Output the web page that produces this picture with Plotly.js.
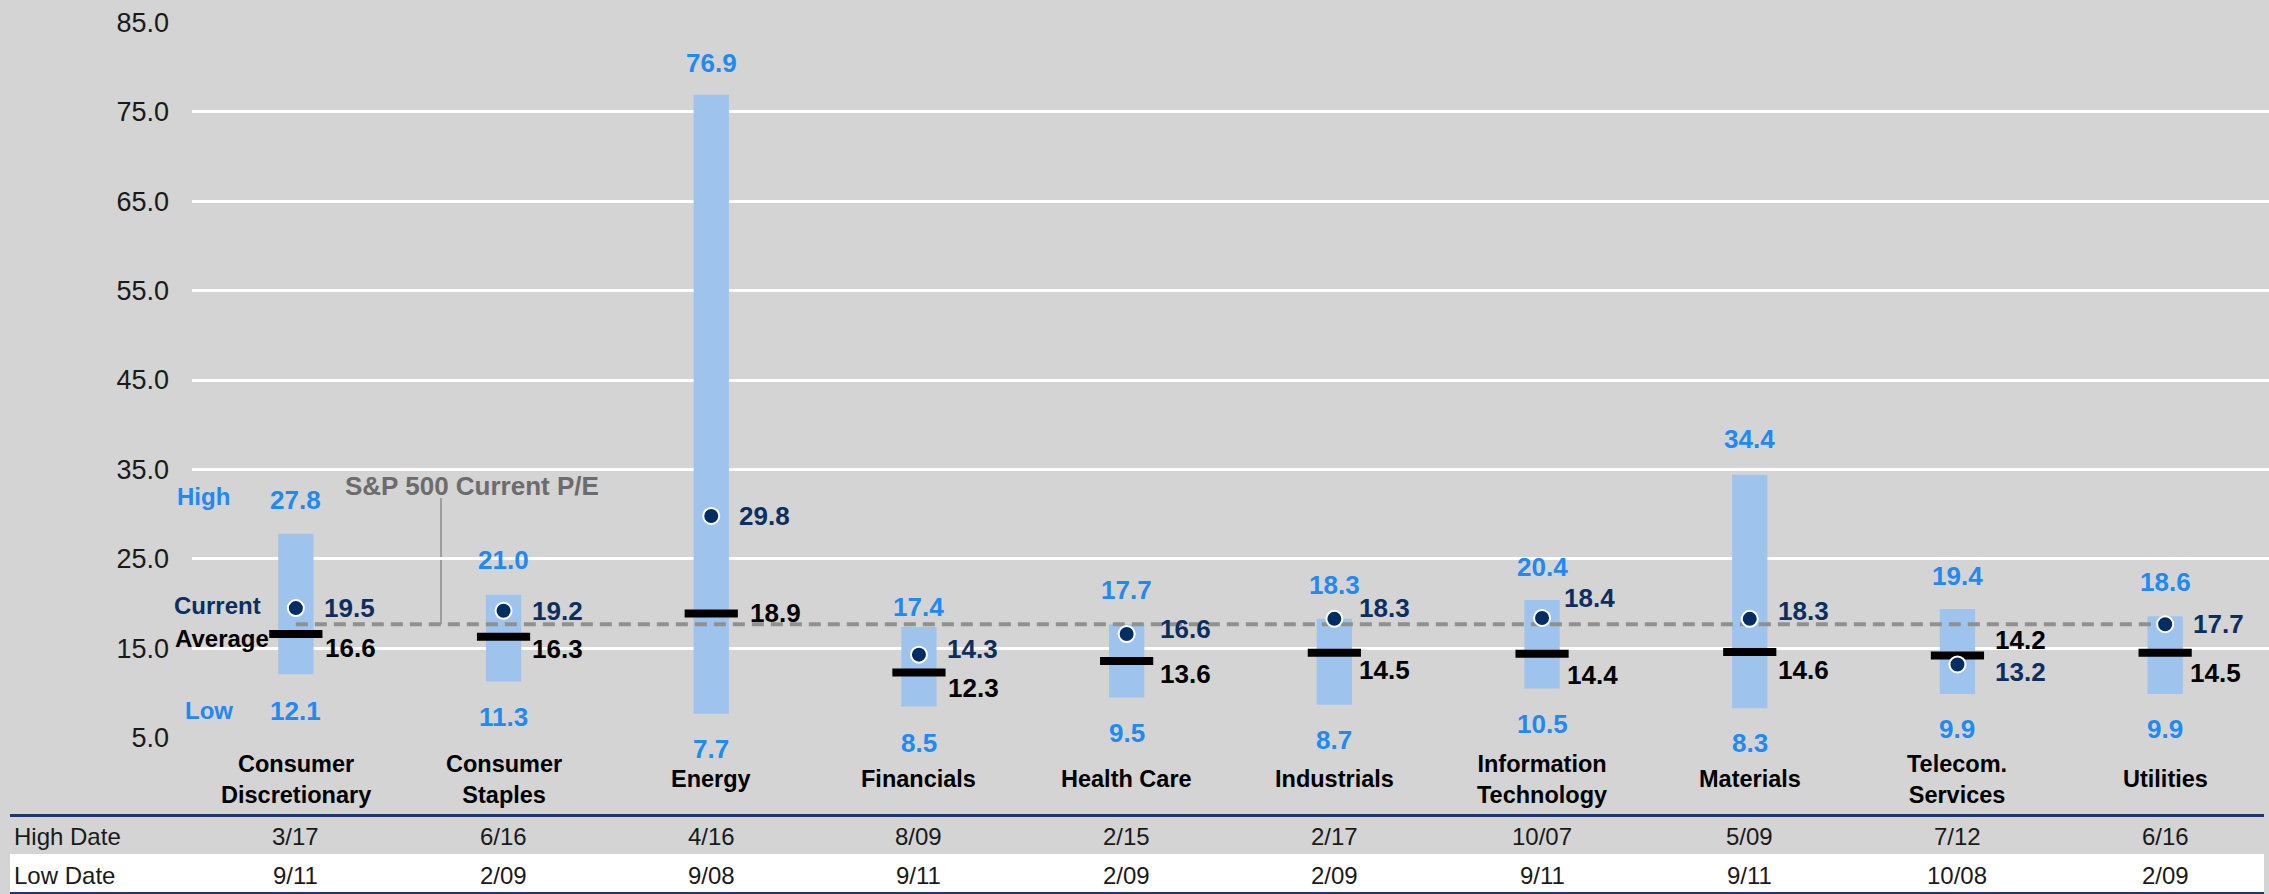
<!DOCTYPE html>
<html><head><meta charset="utf-8">
<script src="https://cdn.plot.ly/plotly-3.0.1.min.js"></script>
<style>html,body{margin:0;padding:0;background:#D3D4D3;} #chart{width:2269px;height:894px;}</style>
</head><body><div id="chart"></div>
<script>
// ---- data ----
const categories = ["Consumer<br>Discretionary","Consumer<br>Staples","Energy","Financials","Health Care","Industrials","Information<br>Technology","Materials","Telecom.<br>Services","Utilities"];
const highPE = [27.8,21.0,76.9,17.4,17.7,18.3,20.4,34.4,19.4,18.6];
const lowPE = [12.1,11.3,7.7,8.5,9.5,8.7,10.5,8.3,9.9,9.9];
const avgPE = [16.6,16.3,18.9,12.3,13.6,14.5,14.4,14.6,14.2,14.5];
const currentPE = [19.5,19.2,29.8,14.3,16.6,18.3,18.4,18.3,13.2,17.7];
const spxCurrentPE = 17.7;
const highDates = ["3/17","6/16","4/16","8/09","2/15","2/17","10/07","5/09","7/12","6/16"];
const lowDates = ["9/11","2/09","9/08","9/11","2/09","2/09","9/11","9/11","10/08","2/09"];
const yTicks = [5,15,25,35,45,55,65,75,85];
const rowLabels = ["High Date","Low Date"];
const legendLabels = ["High","Current","Average","Low"];
const spxLabel = "S&P 500 Current P/E";

// ---- label offsets (px, style only) ----
const highLabelShift = [34,35,32,20,34,34,33,36,33,34];
const lowLabelShift = [-37,-36,-35,-36,-35,-35,-35,-35,-35,-35];
const curLabelShiftY = [0,0,0,6,5,11,20,8,-8,0];
const curLabelShiftX = [26,26,26,26,31,23,20,26,36,26];
const avgLabelShiftY = [-14,-12,0,-15,-13,-17,-21,-18,16,-20];
const avgLabelShiftX = [27,26,37,27,31,23,23,26,36,23];

// ---- geometry ----
const W = 2269, H = 894, ML = 192, MR = 0, MT = 22, MB = 156;
const PW = W - ML - MR, PH = H - MT - MB;
const px2paper = px => (px - ML) / PW;
const py2paper = py => (H - MB - py) / PH;

const BLUE = '#2189F3', NAVY = '#0C2F5F', BAR = '#9EC4EE', DOT = '#002D62';
const REG = 'Liberation Sans, Arial, sans-serif';

const traces = [
  {type:'bar', x:categories, y:highPE.map((h,i)=>h-lowPE[i]), base:lowPE, width:0.17,
   marker:{color:BAR, line:{width:0}}, hoverinfo:'skip'},
  {type:'scatter', mode:'lines', x:[categories[0], categories[categories.length-1]], y:[spxCurrentPE, spxCurrentPE],
   line:{color:'#8F918F', width:4, dash:'12px,7px'}, hoverinfo:'skip'},
  {type:'scatter', mode:'markers', x:categories, y:avgPE,
   marker:{symbol:'line-ew', size:38, line:{width:8, color:'#000'}}, hoverinfo:'skip'},
  {type:'scatter', mode:'markers', x:categories, y:currentPE,
   marker:{symbol:'circle', size:16, color:DOT, line:{width:2, color:'#fff'}}, hoverinfo:'skip'}
];

const ann = [];
const valFont = (c) => ({family:REG, size:26, color:c, weight:700});
categories.forEach((c,i)=>{
  ann.push({x:c, y:highPE[i], xref:'x', yref:'y', text:highPE[i].toFixed(1), showarrow:false,
    xanchor:'center', yanchor:'middle', yshift:highLabelShift[i], font:valFont(BLUE)});
  ann.push({x:c, y:lowPE[i], xref:'x', yref:'y', text:lowPE[i].toFixed(1), showarrow:false,
    xanchor:'center', yanchor:'middle', yshift:lowLabelShift[i], font:valFont(BLUE)});
  ann.push({x:c, y:currentPE[i], xref:'x', yref:'y', text:currentPE[i].toFixed(1), showarrow:false,
    xanchor:'left', yanchor:'middle', xshift:curLabelShiftX[i], yshift:curLabelShiftY[i], font:valFont(NAVY)});
  ann.push({x:c, y:avgPE[i], xref:'x', yref:'y', text:avgPE[i].toFixed(1), showarrow:false,
    xanchor:'left', yanchor:'middle', xshift:avgLabelShiftX[i], yshift:avgLabelShiftY[i], font:valFont('#000')});
  // category label
  ann.push({x:c, xref:'x', y:py2paper(779), yref:'paper', text:c, showarrow:false,
    xanchor:'center', yanchor:'middle', font:{family:REG, size:23.5, color:'#000', weight:700}});
  ann.push({x:c, xref:'x', y:py2paper(837), yref:'paper', text:highDates[i], showarrow:false,
    xanchor:'center', yanchor:'middle', font:{family:REG, size:24, color:'#1a1a1a'}});
  ann.push({x:c, xref:'x', y:py2paper(875), yref:'paper', text:lowDates[i], showarrow:false,
    xanchor:'center', yanchor:'middle', font:{family:REG, size:24, color:'#1a1a1a'}});
});
// table row labels
ann.push({x:px2paper(12), xref:'paper', y:py2paper(837), yref:'paper', text:rowLabels[0], showarrow:false,
  xanchor:'left', yanchor:'middle', font:{family:REG, size:24, color:'#1a1a1a'}});
ann.push({x:px2paper(12), xref:'paper', y:py2paper(875), yref:'paper', text:rowLabels[1], showarrow:false,
  xanchor:'left', yanchor:'middle', font:{family:REG, size:24, color:'#1a1a1a'}});
// legend-like labels on left
const legPos = [[175,496,BLUE],[172,605,NAVY],[173,638,'#000'],[183,710,BLUE]];
legendLabels.forEach((t,k)=>{
  ann.push({x:px2paper(legPos[k][0]), xref:'paper', y:py2paper(legPos[k][1]), yref:'paper', text:t, showarrow:false,
    xanchor:'left', yanchor:'middle', font:{family:REG, size:24, color:legPos[k][2], weight:700}});
});
// S&P label
ann.push({x:px2paper(343), xref:'paper', y:py2paper(486), yref:'paper', text:spxLabel, showarrow:false,
  xanchor:'left', yanchor:'middle', font:{family:REG, size:26, color:'#6B6C6B', weight:700}});

const shapes = [
  {type:'line', xref:'paper', yref:'y', x0:px2paper(441), x1:px2paper(441), y0:spxCurrentPE, y1:31.8,
   line:{color:'#8A8B8A', width:1.5}, layer:'below'},
  {type:'rect', xref:'paper', yref:'paper', x0:px2paper(10), x1:px2paper(2264), y0:py2paper(854), y1:py2paper(892),
   fillcolor:'#ffffff', line:{width:0}, layer:'below'},
  {type:'line', xref:'paper', yref:'paper', x0:px2paper(10), x1:px2paper(2264), y0:py2paper(815.5), y1:py2paper(815.5),
   line:{color:'#1B3A6A', width:3}},
  {type:'line', xref:'paper', yref:'paper', x0:px2paper(10), x1:px2paper(2264), y0:py2paper(893), y1:py2paper(893),
   line:{color:'#1B3A6A', width:2}}
];

const layout = {
  width:W, height:H, margin:{l:ML, r:MR, t:MT, b:MB, pad:0},
  paper_bgcolor:'#D3D4D3', plot_bgcolor:'#D3D4D3',
  showlegend:false, hovermode:false,
  xaxis:{type:'category', range:[-0.5, categories.length-0.5], showgrid:false, showticklabels:false,
    zeroline:false, showline:false, ticks:'', fixedrange:true},
  yaxis:{range:[4.98, 85.02], tickvals:yTicks, ticktext:yTicks.map(v=>v.toFixed(1)),
    showgrid:true, gridcolor:'#ffffff', gridwidth:3, zeroline:false, showline:false, ticks:'',
    ticklabelstandoff:22, tickfont:{family:REG, size:27, color:'#1a1a1a'}, fixedrange:true},
  annotations:ann, shapes:shapes
};
Plotly.newPlot('chart', traces, layout, {displayModeBar:false, staticPlot:true});
</script></body></html>
